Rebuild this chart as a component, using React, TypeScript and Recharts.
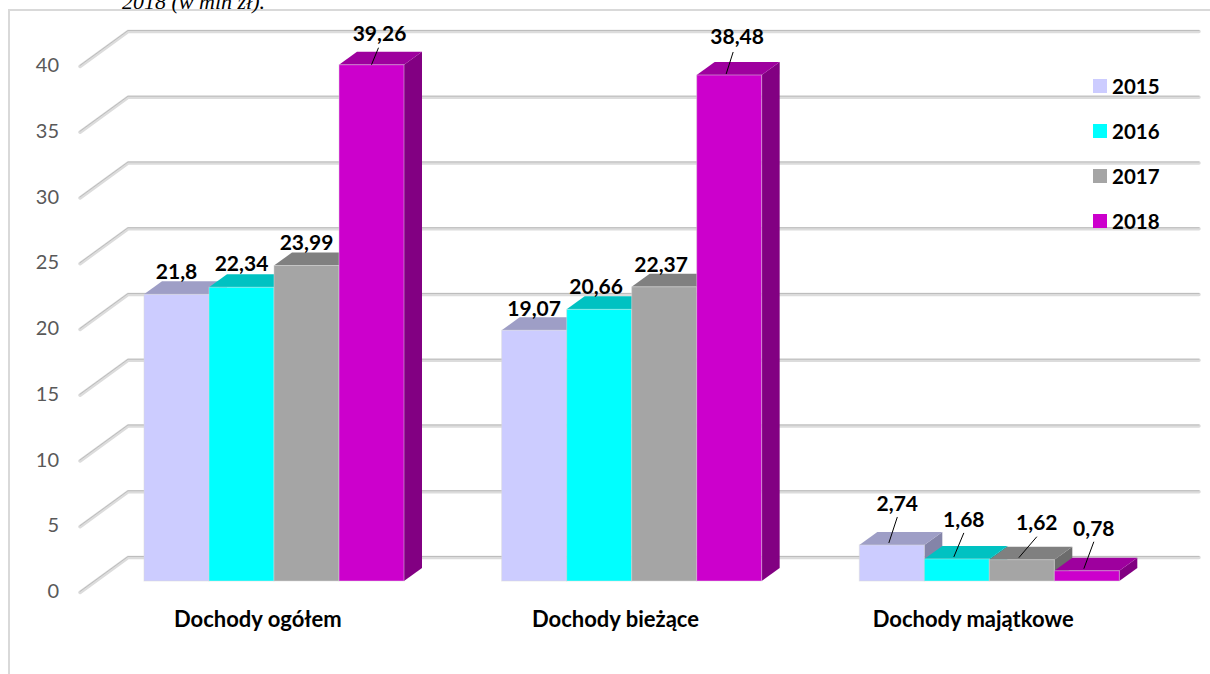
import { Bar, BarChart, CartesianGrid, LabelList, Legend, XAxis, YAxis } from 'recharts'

const categories = ['Dochody ogółem', 'Dochody bieżące', 'Dochody majątkowe']
const values2015 = [21.8, 19.07, 2.74]
const values2016 = [22.34, 20.66, 1.68]
const values2017 = [23.99, 22.37, 1.62]
const values2018 = [39.26, 38.48, 0.78]
const yTicks = [0, 5, 10, 15, 20, 25, 30, 35, 40]

const chartData = categories.map((name, i) => ({
  name,
  y2015: values2015[i],
  y2016: values2016[i],
  y2017: values2017[i],
  y2018: values2018[i],
}))

const series = [
  { key: 'y2015', name: '2015', front: '#ccccff', top: '#9e9ec6', side: '#8484a8' },
  { key: 'y2016', name: '2016', front: '#00ffff', top: '#00c2c2', side: '#00a0a0' },
  { key: 'y2017', name: '2017', front: '#a5a5a5', top: '#808080', side: '#6c6c6c' },
  { key: 'y2018', name: '2018', front: '#cc00cc', top: '#9e009e', side: '#820082' },
]

const FONT = 'Lato, sans-serif'
const DEPTH_X = 18
const DEPTH_Y = 13

// label nudges from the bar's top centre: [dx, dy], leader from [x, y] to [x, y] or null
const labelLayout: Record<string, [number, number, number[] | null][]> = {
  y2015: [
    [0, -22, null],
    [0, -21, null],
    [5.5, -41, [-3, -2, 5.5, -28]],
  ],
  y2016: [
    [0, -23, null],
    [-3, -22, null],
    [7, -39, [-3, -2, 7, -26]],
  ],
  y2017: [
    [0, -23, null],
    [-3, -22, null],
    [15, -37, [-3, -2, 15, -23]],
  ],
  y2018: [
    [8, -31, [0, 0, 7, -17]],
    [8, -38, [-3, -1, 4, -23]],
    [7, -42, [-3, -2, 7, -29]],
  ],
}

function Bar3D(props: any) {
  const { x, y, width, height, front, top, side } = props
  const r = x + width
  const b = y + height
  return (
    <g>
      <polygon
        fill={side}
        points={`${r},${y} ${r + DEPTH_X},${y - DEPTH_Y} ${r + DEPTH_X},${b - DEPTH_Y} ${r},${b}`}
      />
      <polygon
        fill={top}
        points={`${x},${y} ${x + DEPTH_X},${y - DEPTH_Y} ${r + DEPTH_X},${y - DEPTH_Y} ${r},${y}`}
      />
      <rect fill={front} height={height} stroke="#d9d9d9" strokeOpacity={0.5} width={width} x={x} y={y} />
    </g>
  )
}

function GridLine(props: any) {
  const { y1 } = props
  const points = `80,${y1 + 11} 128,${y1 - 24} 1199,${y1 - 24}`
  return (
    <g fill="none" strokeLinecap="round">
      <polyline points={points} stroke="#dcdcdc" strokeWidth={3.5} transform="translate(0,0.5)" />
      <polyline points={points} stroke="#bdbdbd" strokeWidth={1} transform="translate(0,-0.5)" />
    </g>
  )
}

function YTick({ y, payload }: any) {
  return (
    <text
      dy={10}
      fill="#595959"
      fontFamily={FONT}
      fontSize={20}
      textAnchor="end"
      x={59}
      y={y + 7}
    >
      {payload.value}
    </text>
  )
}

function XTick({ x, y, payload }: any) {
  return (
    <text
      fill="#000"
      fontFamily={FONT}
      fontSize={22}
      fontWeight={700}
      textAnchor="middle"
      x={x - 16}
      y={y + 38}
    >
      {payload.value}
    </text>
  )
}

function makeLabel(seriesKey: string) {
  return function BarLabel({ x, y, width, value, index }: any) {
    const [dx, dy, leader] = labelLayout[seriesKey][index]
    const cx = x + width / 2
    return (
      <g>
        {leader && (
          <line
            stroke="#000"
            strokeWidth={1}
            x1={cx + leader[0]}
            x2={cx + leader[2]}
            y1={y + leader[1]}
            y2={y + leader[3]}
          />
        )}
        <text
          fill="#000"
          fontFamily={FONT}
          fontSize={21}
          fontWeight={700}
          textAnchor="middle"
          x={cx + dx}
          y={y + dy + 7}
        >
          {String(value).replace('.', ',')}
        </text>
      </g>
    )
  }
}

function LegendBox({ payload }: any) {
  return (
    <div style={{ fontFamily: FONT, fontSize: 20.5, fontWeight: 700, color: '#000' }}>
      {payload.map((item: any) => (
        <div key={item.value} style={{ alignItems: 'center', display: 'flex', height: 45 }}>
          <span
            style={{ background: item.color, display: 'inline-block', height: 14, marginRight: 5, width: 14 }}
          />
          {item.value}
        </div>
      ))}
    </div>
  )
}

export default function App() {
  return (
    <div style={{ height: 674, left: 0, overflow: 'hidden', position: 'absolute', top: 0, width: 1210 }}>
      <div
        style={{
          borderLeft: '2px solid #d9d9d9',
          borderTop: '2px solid #d9d9d9',
          height: 664,
          left: 8,
          position: 'absolute',
          top: 9,
          width: 1202,
        }}
      />
      <div
        style={{
          color: '#000',
          fontFamily: '"Liberation Serif", serif',
          fontSize: 22,
          fontStyle: 'italic',
          left: 122,
          lineHeight: '24px',
          position: 'absolute',
          top: -10,
        }}
      >
        2018 (w mln zł).
      </div>
      <BarChart
        barGap={0}
        barSize={65}
        data={chartData}
        height={674}
        margin={{ top: 55, right: 42, bottom: 0, left: 0 }}
        style={{ position: 'absolute', left: 0, top: 0 }}
        width={1210}
      >
        <CartesianGrid horizontal={(p: any) => <GridLine {...p} key={p.key} />} vertical={false} />
        <XAxis
          axisLine={false}
          dataKey="name"
          height={93}
          interval={0}
          tick={<XTick />}
          tickLine={false}
        />
        <YAxis
          axisLine={false}
          domain={[0, 40]}
          tick={<YTick />}
          tickLine={false}
          ticks={yTicks}
          width={95}
        />
        <Legend
          align="center"
          content={<LegendBox />}
          layout="vertical"
          verticalAlign="middle"
          wrapperStyle={{ left: 1093, top: 63, width: 100 }}
        />
        {series.map((s) => (
          <Bar
            dataKey={s.key}
            fill={s.front}
            isAnimationActive={false}
            key={s.key}
            name={s.name}
            shape={(p: any) => <Bar3D {...p} front={s.front} side={s.side} top={s.top} />}
          >
            <LabelList content={makeLabel(s.key)} dataKey={s.key} />
          </Bar>
        ))}
      </BarChart>
    </div>
  )
}
